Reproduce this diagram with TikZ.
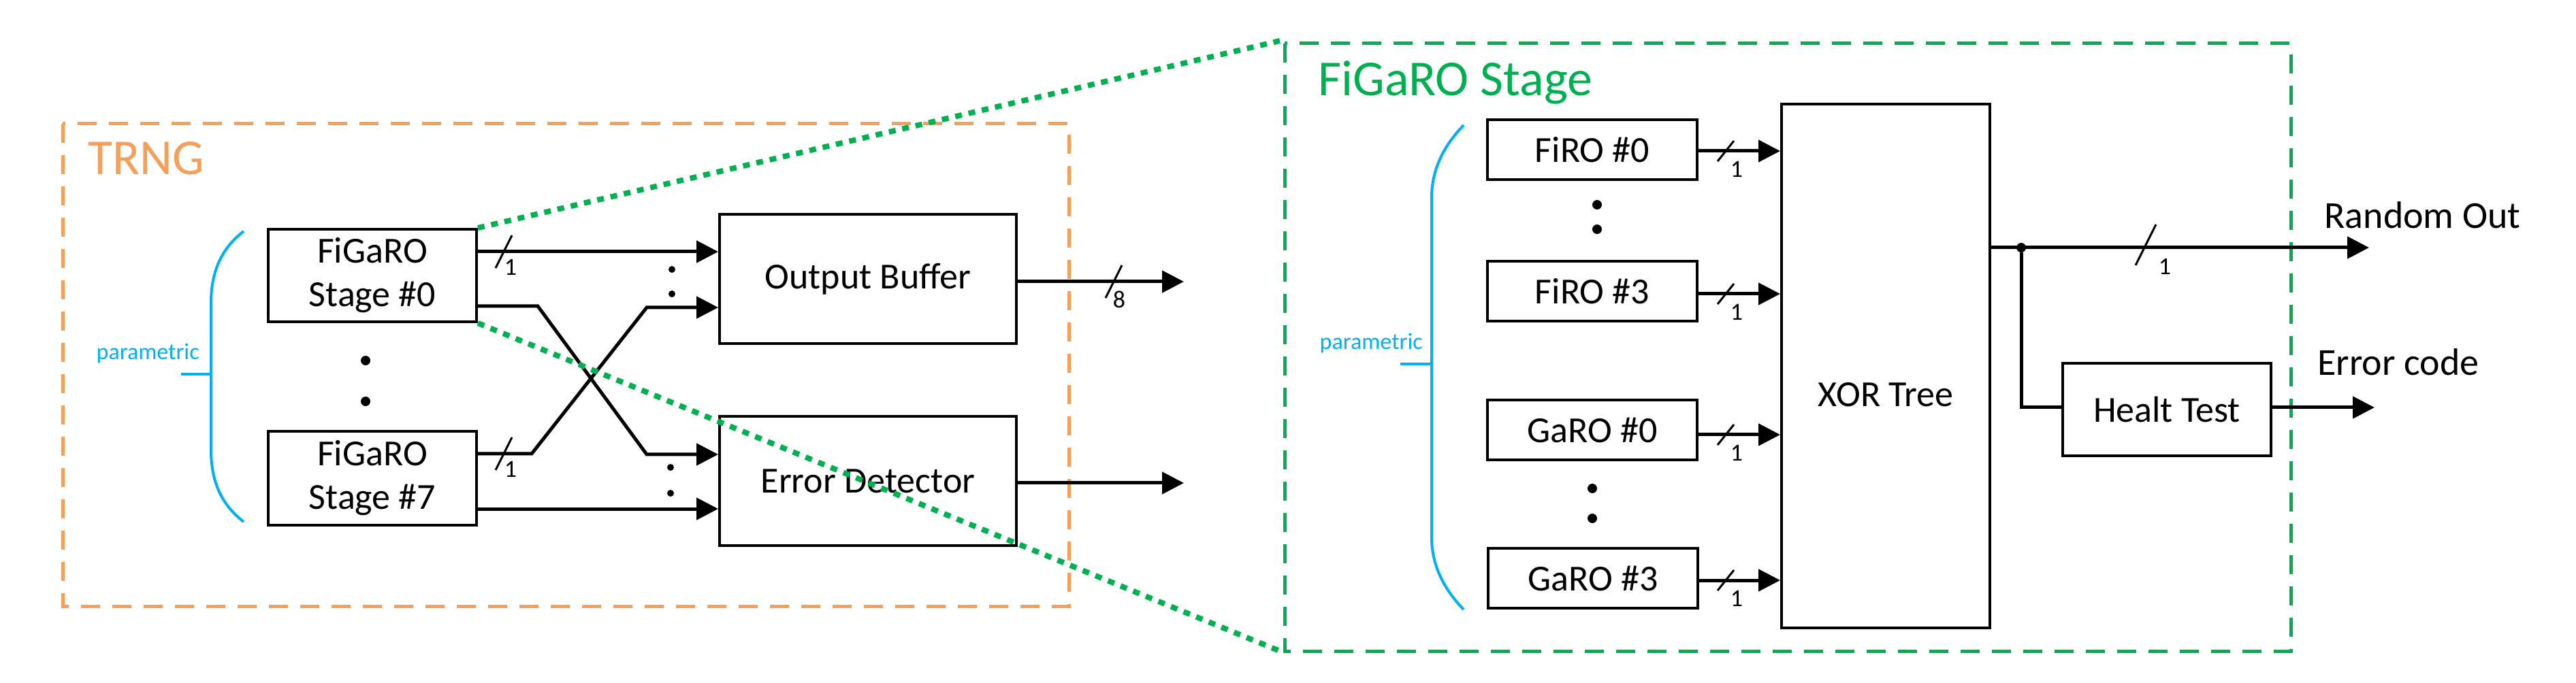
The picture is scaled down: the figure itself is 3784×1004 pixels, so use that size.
\documentclass[tikz,border=0pt]{standalone}
\usepackage{fontspec}
\setmainfont{Carlito}
\usetikzlibrary{arrows.meta,decorations.markings}
\definecolor{trng}{RGB}{244,160,90}
\definecolor{fgreen}{RGB}{0,176,80}
\definecolor{pblue}{RGB}{0,176,240}
\begin{document}
\begin{tikzpicture}[x=0.5pt,y=-0.5pt,
  box/.style={draw,line width=2pt,inner sep=0pt,font=\fontsize{27}{32}\selectfont,align=center},
  wire/.style={line width=2.5pt,-{Triangle[length=16pt,width=16pt]}},
  plain/.style={line width=2.5pt},
  dot/.style={circle,fill,inner sep=0pt,minimum size=7pt},
  lbl/.style={font=\fontsize{18}{20}\selectfont,inner sep=1pt},
  slash/.style={line width=1.5pt},
  brace/.style={draw=pblue,line width=2pt},
  zoomline/.style={fgreen,line width=4pt,dash pattern=on 5pt off 5pt}]
\useasboundingbox (0,0) rectangle (3784,1004);
% TRNG frame
\draw[trng,line width=2.5pt,dash pattern=on 14pt off 9pt] (92,182) rectangle (1570,891);
\node[trng,anchor=base west,font=\fontsize{37}{40}\selectfont,inner sep=0pt] (ttrng) at (129,257) {TRNG};
% FiGaRO frame
\draw[fgreen,line width=2.5pt,dash pattern=on 14pt off 9pt] (1887,64) rectangle (3365,957);
\node[fgreen,anchor=base west,font=\fontsize{37}{40}\selectfont,inner sep=0pt] (tfig) at (1936,141) {FiGaRO Stage};
% left boxes
\node[box,minimum width=153pt,minimum height=68pt] (s0) at (547,405) {FiGaRO\\Stage \#0};
\node[box,minimum width=153pt,minimum height=69pt] (s7) at (547,703) {FiGaRO\\Stage \#7};
\node[box,minimum width=218pt,minimum height=95pt] (ob) at (1275,410) {Output Buffer};
\node[box,minimum width=218pt,minimum height=95pt] (ed) at (1275,707) {Error Detector};
\node[dot] (d1) at (537,530) {};
\node[dot] (d2) at (537,590) {};
\node[dot,minimum size=5pt] (d3) at (987,396) {};
\node[dot,minimum size=5pt] (d4) at (987,432) {};
\node[dot,minimum size=5pt] (d5) at (985,687) {};
\node[dot,minimum size=5pt] (d6) at (985,725) {};
% left wires
\draw[wire] (s0.east |- 0,370) -- (ob.west |- 0,370);
\draw[wire] (s0.east |- 0,450) -- (790,450) -- (950,668) -- (ed.west |- 0,668);
\draw[wire] (s7.east |- 0,667) -- (781,667) -- (950,452) -- (ob.west |- 0,452);
\draw[wire] (s7.east |- 0,748) -- (ed.west |- 0,748);
\coordinate (obo) at (1739,414);
\coordinate (edo) at (1739,710);
\draw[wire] (ob.east |- obo) -- (obo);
\draw[wire] (ed.east |- edo) -- (edo);
\draw[slash] (728,394) -- (752,346);
\node[lbl] (l1) at (750,393) {1};
\draw[slash] (728,691) -- (752,643);
\node[lbl] (l2) at (750,690) {1};
\draw[slash] (1624,438) -- (1648,390);
\node[lbl] (l3) at (1644,440) {8};
% left brace
\draw[brace] (358,340) .. controls (325,365) and (310,400) .. (310,445) -- (310,662) .. controls (310,707) and (325,742) .. (358,767);
\draw[brace] (266,550) -- (310,550);
\node[pblue,anchor=east,font=\fontsize{17}{18}\selectfont,inner sep=0pt] (p1) at (293,520) {parametric};
% right boxes
\node[box,minimum width=154pt,minimum height=44pt] (f0) at (2339,220) {FiRO \#0};
\node[box,minimum width=154pt,minimum height=44pt] (f3) at (2339,428) {FiRO \#3};
\node[box,minimum width=154pt,minimum height=44pt] (g0) at (2339,632) {GaRO \#0};
\node[box,minimum width=154pt,minimum height=44pt] (g3) at (2340,850) {GaRO \#3};
\node[box,minimum width=153pt,minimum height=385pt] (xor) at (2770,538) {};
\node[font=\fontsize{27}{32}\selectfont,inner sep=0pt] (xort) at ([yshift=-21pt]xor.center) {XOR Tree};
\node[box,minimum width=153pt,minimum height=68pt] (ht) at (3183,602) {Healt Test};
\node[dot] (e1) at (2346,301) {};
\node[dot] (e2) at (2346,337) {};
\node[dot] (e3) at (2339,718) {};
\node[dot] (e4) at (2339,762) {};
\foreach \n/\y/\k in {f0/222/a,f3/432/b,g0/639/c,g3/853/d}{
  \draw[wire] (\n.east |- 0,\y) -- (xor.west |- 0,\y);
  \draw[slash] (2523,\y+15) -- (2547,\y-15);
  \node[lbl] (n\k) at (2551,\y+27) {1};
}
\node[dot] (j) at (2969,364) {};
\coordinate (ro) at (3480,364);
\coordinate (ec) at (3488,599);
\draw[wire] (xor.east |- ro) -- (ro);
\draw[plain] (j) |- (ht.west |- ec);
\draw[wire] (ht.east |- ec) -- (ec);
\draw[slash] (3137,390) -- (3167,330);
\node[lbl] (n5) at (3180,392) {1};
\node[anchor=base west,font=\fontsize{28}{30}\selectfont,inner sep=0pt] (tro) at (3414,336) {Random Out};
\node[anchor=base west,font=\fontsize{28}{30}\selectfont,inner sep=0pt] (tec) at (3404,552) {Error code};
% right brace
\draw[brace] (2150,184) .. controls (2120,215) and (2103,250) .. (2103,290) -- (2103,790) .. controls (2103,830) and (2120,865) .. (2150,896);
\draw[brace] (2057,535) -- (2103,535);
\node[pblue,anchor=east,font=\fontsize{17}{18}\selectfont,inner sep=0pt] (p2) at (2090,505) {parametric};
% zoom lines
\draw[zoomline] (s0.north east) -- (1880,60);
\draw[zoomline] (s0.south east) -- (1880,957);
\end{tikzpicture}
\end{document}
